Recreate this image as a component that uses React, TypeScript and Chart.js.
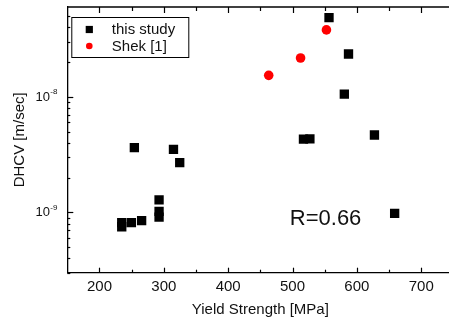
import React, { useEffect, useRef } from 'react';
import { Chart, registerables } from 'chart.js';

Chart.register(...registerables);

// ---- data ----
const studyYield = [234.6, 234.6, 249.6, 265.5, 292.6, 292.6, 292.6, 254.2, 315, 324.7, 517, 527, 556.7, 587, 580.5, 627.3, 658.7];
const studyDhcv = [8.13e-10, 7.5e-10, 8.13e-10, 8.47e-10, 1.28e-9, 1.02e-9, 9.1e-10, 3.63e-9, 3.51e-9, 2.69e-9, 4.3e-9, 4.33e-9, 4.86e-8, 2.35e-8, 1.055e-8, 4.67e-9, 9.8e-10];
const shekYield = [463, 512.5, 552.7];
const shekDhcv = [1.535e-8, 2.17e-8, 3.8e-8];

const seriesLabels = ['this study', 'Shek [1]'];
const xTicks = [200, 300, 400, 500, 600, 700];
const xMinorTicks = [250, 350, 450, 550, 650, 750];
const yMajorTicks = [1e-9, 1e-8];
const yTickBase = '10';
const yTickExps = ['-9', '-8'];
const xTitle = 'Yield Strength [MPa]';
const yTitle = 'DHCV [m/sec]';
const annotationText = 'R=0.66';

const X_MIN = 150;
const X_MAX = 750;
const Y_MIN = 3e-10;
const Y_MAX = 6e-8;

const FONT = '"Liberation Sans", Arial, sans-serif';

function yMinorTicks(): number[] {
  const out: number[] = [];
  for (let e = -10; e <= -8; e++) {
    for (let k = 2; k <= 9; k++) {
      const v = k * Math.pow(10, e);
      if (v >= Y_MIN && v <= Y_MAX) out.push(v);
    }
  }
  return out;
}

const decorPlugin = {
  id: 'decor',
  afterDraw(chart: any) {
    const { ctx, chartArea: a, scales } = chart;
    const xs = scales.x;
    const ys = scales.y;
    ctx.save();
    ctx.strokeStyle = '#000';
    ctx.lineWidth = 1.3;
    // top frame line
    ctx.beginPath();
    ctx.moveTo(a.left, a.top);
    ctx.lineTo(chart.width, a.top);
    ctx.stroke();
    // x ticks (inward, bottom and top)
    ctx.lineWidth = 1.2;
    const tick = (x1: number, y1: number, x2: number, y2: number) => {
      ctx.beginPath();
      ctx.moveTo(x1, y1);
      ctx.lineTo(x2, y2);
      ctx.stroke();
    };
    for (const v of xTicks) {
      const px = Math.round(xs.getPixelForValue(v)) + 0.5;
      tick(px, a.bottom, px, a.bottom - 5);
      tick(px, a.top, px, a.top + 6);
    }
    for (const v of xMinorTicks) {
      const px = Math.round(xs.getPixelForValue(v)) + 0.5;
      tick(px, a.bottom, px, a.bottom - 3);
      tick(px, a.top, px, a.top + 4);
    }
    for (const v of yMajorTicks) {
      const py = Math.round(ys.getPixelForValue(v)) + 0.5;
      tick(a.left, py, a.left + 6, py);
    }
    for (const v of yMinorTicks()) {
      const py = Math.round(ys.getPixelForValue(v)) + 0.5;
      tick(a.left, py, a.left + 3, py);
    }
    // y tick labels with superscripts
    ctx.fillStyle = '#111';
    yMajorTicks.forEach((v, i) => {
      const py = ys.getPixelForValue(v);
      ctx.font = `13px ${FONT}`;
      ctx.textAlign = 'right';
      ctx.textBaseline = 'middle';
      ctx.fillText(yTickBase, a.left - 17.3, py + 0.5);
      ctx.font = `8px ${FONT}`;
      ctx.textAlign = 'left';
      ctx.fillText(yTickExps[i], a.left - 17, py - 5);
    });
    // legend
    const lx = a.left + 4;
    const ly = a.top + 10;
    ctx.lineWidth = 1;
    ctx.strokeStyle = '#000';
    ctx.strokeRect(lx + 0.5, ly + 0.5, 117, 40);
    const ds = chart.data.datasets;
    const rows = [ly + 12.5, ly + 29];
    ds.forEach((d: any, i: number) => {
      const cy = rows[i];
      const cx = lx + 18;
      ctx.fillStyle = d.backgroundColor;
      if (d.pointStyle === 'rect') {
        ctx.fillRect(cx - 3.6, cy - 3.6, 7.2, 7.2);
      } else {
        ctx.beginPath();
        ctx.arc(cx, cy, 3.3, 0, Math.PI * 2);
        ctx.fill();
      }
      ctx.fillStyle = '#111';
      ctx.font = `15px ${FONT}`;
      ctx.textAlign = 'left';
      ctx.textBaseline = 'middle';
      ctx.fillText(d.label, lx + 40.5, cy + 0.5);
    });
    // annotation
    ctx.font = `22px ${FONT}`;
    ctx.textAlign = 'left';
    ctx.textBaseline = 'alphabetic';
    ctx.fillStyle = '#111';
    ctx.fillText(annotationText, a.left + 222.5, a.top + 218);
    ctx.restore();
  },
};

export default function App() {
  const ref = useRef<HTMLCanvasElement | null>(null);
  useEffect(() => {
    if (!ref.current) return;
    const chart = new Chart(ref.current, {
      type: 'scatter',
      data: {
        datasets: [
          {
            label: seriesLabels[0],
            data: studyYield.map((x, i) => ({ x, y: studyDhcv[i] })),
            backgroundColor: '#000000',
            borderWidth: 0,
            pointStyle: 'rect',
            pointRadius: 6.6,
          },
          {
            label: seriesLabels[1],
            data: shekYield.map((x, i) => ({ x, y: shekDhcv[i] })),
            backgroundColor: '#ff0000',
            borderWidth: 0,
            pointStyle: 'circle',
            pointRadius: 4.8,
          },
        ],
      },
      options: {
        responsive: false,
        animation: false,
        devicePixelRatio: 1,
        layout: { padding: { left: 0, top: 7, right: 4.7, bottom: 0 } },
        plugins: { legend: { display: false }, tooltip: { enabled: false } },
        scales: {
          x: {
            type: 'linear',
            min: X_MIN,
            max: X_MAX,
            grid: { display: false, drawTicks: false },
            border: { display: true, color: '#000', width: 1.3 },
            afterBuildTicks: (s: any) => {
              s.ticks = xTicks.map((v) => ({ value: v }));
            },
            ticks: {
              padding: 5,
              color: '#111',
              font: { family: FONT, size: 15 },
              maxRotation: 0,
            },
            title: {
              display: true,
              text: xTitle,
              color: '#111',
              font: { family: FONT, size: 15 },
              padding: { top: 0, bottom: 5 },
            },
            afterFit: (s: any) => {
              s.height = 51.3;
              s.paddingLeft = 0;
              s.paddingRight = 0;
            },
          },
          y: {
            type: 'logarithmic',
            min: Y_MIN,
            max: Y_MAX,
            grid: { display: false, drawTicks: false },
            border: { display: true, color: '#000', width: 1.3 },
            afterBuildTicks: (s: any) => {
              s.ticks = yMajorTicks.map((v) => ({ value: v }));
            },
            ticks: { display: false },
            title: {
              display: true,
              text: yTitle,
              color: '#111',
              font: { family: FONT, size: 15 },
              padding: { top: 11, bottom: 0 },
            },
            afterFit: (s: any) => {
              s.width = 67.3;
              s.paddingTop = 0;
              s.paddingBottom = 0;
            },
          },
        },
      },
      plugins: [decorPlugin],
    } as any);
    return () => chart.destroy();
  }, []);
  return (
    <div style={{ position: 'fixed', left: 0, top: 0, width: 449, height: 324, overflow: 'hidden', background: '#fff' }}>
      <canvas ref={ref} width={460} height={324} style={{ width: 460, height: 324, display: 'block' }} />
    </div>
  );
}
